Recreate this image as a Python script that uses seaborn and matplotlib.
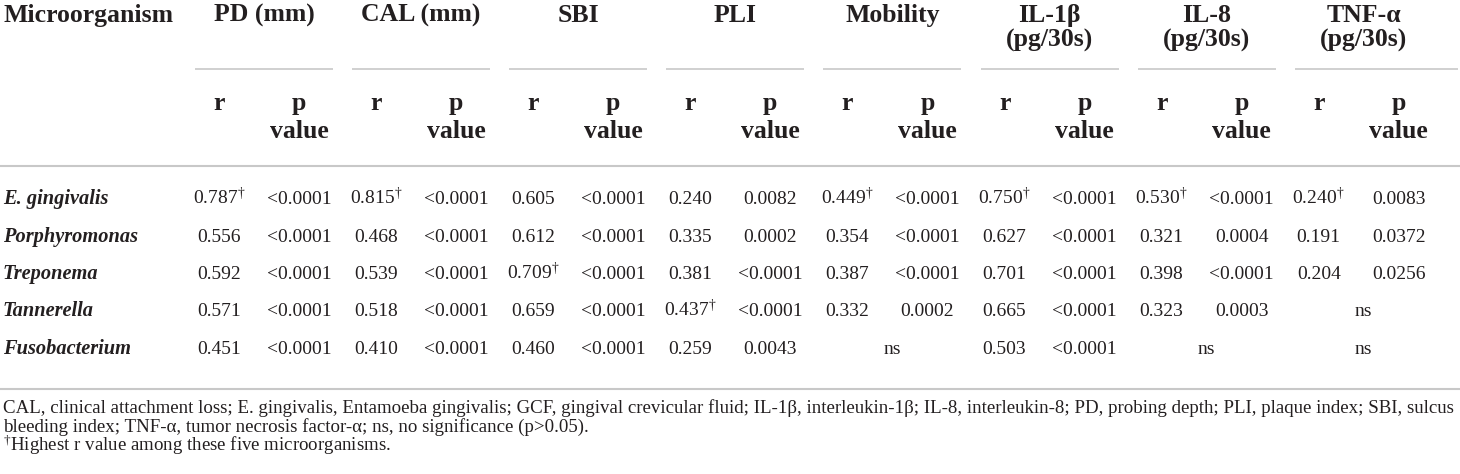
import matplotlib
matplotlib.use("Agg")
import matplotlib.pyplot as plt
import seaborn as sns
import pandas as pd

# --- Dati della tabella ---
organisms = ["E. gingivalis", "Porphyromonas", "Treponema", "Tannerella", "Fusobacterium"]
groups = ["PD (mm)", "CAL (mm)", "SBI", "PLI", "Mobility",
          "IL-1\u03b2\n(pg/30s)", "IL-8\n(pg/30s)", "TNF-\u03b1\n(pg/30s)"]

r_pd = [0.787, 0.556, 0.592, 0.571, 0.451]
p_pd = ["<0.0001", "<0.0001", "<0.0001", "<0.0001", "<0.0001"]
r_cal = [0.815, 0.468, 0.539, 0.518, 0.410]
p_cal = ["<0.0001", "<0.0001", "<0.0001", "<0.0001", "<0.0001"]
r_sbi = [0.605, 0.612, 0.709, 0.659, 0.460]
p_sbi = ["<0.0001", "<0.0001", "<0.0001", "<0.0001", "<0.0001"]
r_pli = [0.240, 0.335, 0.381, 0.437, 0.259]
p_pli = ["0.0082", "0.0002", "<0.0001", "<0.0001", "0.0043"]
r_mob = [0.449, 0.354, 0.387, 0.332, None]
p_mob = ["<0.0001", "<0.0001", "<0.0001", "0.0002", None]
r_il1 = [0.750, 0.627, 0.701, 0.665, 0.503]
p_il1 = ["<0.0001", "<0.0001", "<0.0001", "<0.0001", "<0.0001"]
r_il8 = [0.530, 0.321, 0.398, 0.323, None]
p_il8 = ["<0.0001", "0.0004", "<0.0001", "0.0003", None]
r_tnf = [0.240, 0.191, 0.204, None, None]
p_tnf = ["0.0083", "0.0372", "0.0256", None, None]

r_cols = [r_pd, r_cal, r_sbi, r_pli, r_mob, r_il1, r_il8, r_tnf]
p_cols = [p_pd, p_cal, p_sbi, p_pli, p_mob, p_il1, p_il8, p_tnf]

footnote = [
    "CAL, clinical attachment loss; E. gingivalis, Entamoeba gingivalis; GCF, gingival crevicular fluid; "
    "IL-1\u03b2, interleukin-1\u03b2; IL-8, interleukin-8; PD, probing depth; PLI, plaque index; SBI, sulcus",
    "bleeding index; TNF-\u03b1, tumor necrosis factor-\u03b1; ns, no significance (p>0.05).",
    "$^{\\dagger}$Highest r value among these five microorganisms.",
]

# --- Stile ---
sns.set_theme(style="white")
plt.rcParams["font.family"] = ["Liberation Serif", "DejaVu Serif"]
plt.rcParams["mathtext.fontset"] = "custom"
plt.rcParams["mathtext.rm"] = "Liberation Serif"
plt.rcParams["mathtext.bf"] = "Liberation Serif:bold"
plt.rcParams["mathtext.it"] = "Liberation Serif:italic"

ink = "#231f20"
rule = "#c8c8c8"

fig = plt.figure(figsize=(14.6, 4.74), dpi=100)
ax = fig.add_axes([0, 0, 1, 1])
ax.set_xlim(0, 1460)
ax.set_ylim(474, 0)
ax.axis("off")

hdr = dict(fontsize=18.5, fontweight="bold", color=ink, va="baseline")
body = dict(fontsize=14, color=ink, va="baseline", ha="center")

ax.text(3, 22, "Microorganism", ha="left", **hdr)

row_y = [204 + 37.5 * k for k in range(len(organisms))]

for i, (g, rs, ps) in enumerate(zip(groups, r_cols, p_cols)):
    x0 = 195 + 157.1 * i
    x1 = 1458 if i == len(groups) - 1 else x0 + 138
    lines = g.split("\n")
    for j, ln in enumerate(lines):
        ax.text(x0 + 69, 22 + 25 * j, ln, ha="center", **hdr)
    ax.plot([x0, x1], [69, 69], color=rule, lw=1.2, solid_capstyle="butt")
    ax.text(x0 + 24, 110, "r", ha="center", **hdr)
    ax.text(x0 + 104, 110, "p", ha="center", **hdr)
    ax.text(x0 + 104, 138, "value", ha="center", **hdr)

    # dagger sul valore r più alto della colonna
    best = max(v for v in rs if v is not None)
    for k, (rv, pv) in enumerate(zip(rs, ps)):
        y = row_y[k]
        if rv is None:
            ax.text(x0 + 69, y, "ns", **body)
            continue
        s = f"{rv:.3f}"
        if rv == best:
            s += "$^{\\dagger}$"
        ax.text(x0 + 24, y, s, **body)
        ax.text(x0 + 104, y, pv, **body)

for k, org in enumerate(organisms):
    ax.text(3, row_y[k], org, fontsize=14.7, fontweight="bold", style="italic",
            color=ink, ha="left", va="baseline")

# Linee orizzontali
ax.plot([0, 1460], [166, 166], color=rule, lw=1.5)
ax.plot([0, 1460], [389, 389], color=rule, lw=1.5)

for j, ln in enumerate(footnote):
    ax.text(3, 413 + 19 * j, ln, fontsize=13.6, color=ink, ha="left", va="baseline")

fig.savefig("out.png", dpi=100)
plt.close(fig)
